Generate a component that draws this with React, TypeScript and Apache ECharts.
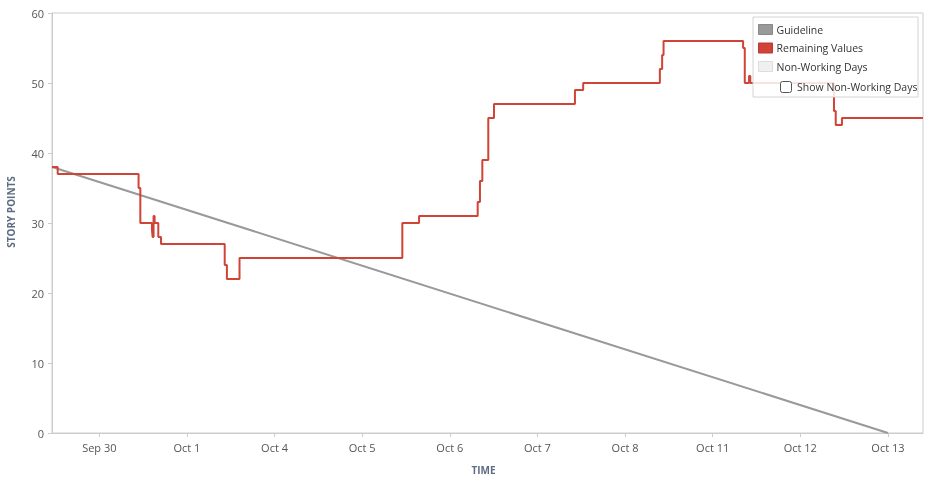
import { useEffect, useRef } from "react";
import * as echarts from "echarts";

const RED = "#d04437";
const GUIDE = "#999999";
const SLATE = "#5e6c84";
const TEXT = "#555555";
const EDGE = "#cccccc";

// x in working days from the "Sep 30" tick (non-working days collapsed)
const TICK_LABELS = ["Sep 30", "Oct 1", "Oct 4", "Oct 5", "Oct 6", "Oct 7", "Oct 8", "Oct 11", "Oct 12", "Oct 13"];
const TICK_POS = [0, 1, 2, 3, 4, 5, 6, 7, 8, 9];
const X_MIN = -0.54;
const X_MAX = 9.4;

const GUIDE_X = [-0.54, 9];
const GUIDE_Y = [38, 0];

const REMAIN_X = [
  -0.54, -0.475, 0.448, 0.468, 0.601, 0.608, 0.619, 0.631, 0.673, 0.704,
  1.431, 1.456, 1.6, 3.458, 3.649, 4.318, 4.344, 4.371, 4.439, 4.504,
  5.428, 5.522, 6.397, 6.423, 6.439, 7.347, 7.366, 7.415, 7.429, 8.384,
  8.404, 8.475, 9.4,
];
const REMAIN_Y = [
  38, 37, 35, 30, 29, 28, 31, 30, 28, 27,
  24, 22, 25, 30, 31, 33, 36, 39, 45, 47,
  49, 50, 52, 54, 56, 55, 50, 51, 50, 46,
  44, 45, 45,
];

const FONT = "'Open Sans', 'Noto Sans', sans-serif";

export default function App() {
  const ref = useRef<HTMLDivElement>(null);

  useEffect(() => {
    if (!ref.current) return;
    const chart = echarts.init(ref.current, undefined, { renderer: "svg" });

    chart.setOption({
      animation: false,
      textStyle: { fontFamily: FONT },
      grid: {
        left: 52,
        right: 13,
        top: 13,
        bottom: 59,
        outerBoundsMode: "none",
        containLabel: false,
        show: true,
        borderColor: EDGE,
        borderWidth: 1,
        backgroundColor: "transparent",
      },
      xAxis: {
        type: "value",
        min: X_MIN,
        max: X_MAX,
        name: "TIME",
        nameLocation: "middle",
        nameGap: 32,
        nameTextStyle: { color: SLATE, fontSize: 10, fontWeight: "bold", padding: [0, 8, 0, 0] },
        axisLine: { show: true, onZero: false, lineStyle: { color: EDGE } },
        axisTick: { show: true, length: 4, lineStyle: { color: EDGE }, customValues: TICK_POS },
        axisLabel: {
          color: TEXT,
          fontSize: 11,
          margin: 9,
          customValues: TICK_POS,
          formatter: (v: number) => TICK_LABELS[Math.round(v)] ?? "",
        },
        splitLine: { show: false },
      },
      yAxis: {
        type: "value",
        min: 0,
        max: 60,
        interval: 10,
        name: "STORY POINTS",
        nameLocation: "middle",
        nameGap: 36,
        nameTextStyle: { color: SLATE, fontSize: 10, fontWeight: "bold", padding: [0, 0, 0, 22] },
        axisLine: { show: true, onZero: false, lineStyle: { color: EDGE } },
        axisTick: { show: true, length: 4, lineStyle: { color: EDGE } },
        axisLabel: { color: TEXT, fontSize: 11, margin: 8 },
        splitLine: { show: false },
      },
      legend: {
        orient: "vertical",
        left: 758,
        top: 24,
        padding: 0,
        z: 20,
        icon: "rect",
        itemWidth: 14,
        itemHeight: 10,
        itemGap: 7.5,
        selectedMode: false,
        textStyle: { color: "#333333", fontSize: 10.5, fontFamily: FONT, padding: [0, 0, 0, -1] },
        data: [
          { name: "Guideline", itemStyle: { color: GUIDE, borderColor: "#888888", borderWidth: 1 } },
          { name: "Remaining Values", itemStyle: { color: RED, borderColor: "#b83a2e", borderWidth: 1 } },
          { name: "Non-Working Days", itemStyle: { color: "#f0f0f0", borderColor: "#dddddd", borderWidth: 1 } },
        ],
      },
      graphic: [
        {
          type: "rect",
          z: 10,
          shape: { x: 753, y: 17, width: 165, height: 80 },
          style: { fill: "rgba(255,255,255,0.85)", stroke: "#d4d4d4", lineWidth: 1 },
        },
        {
          type: "rect",
          z: 21,
          shape: { x: 780.5, y: 81.5, width: 11, height: 11, r: 2 },
          style: { fill: "#ffffff", stroke: "#555555", lineWidth: 1 },
        },
        {
          type: "text",
          z: 21,
          x: 797,
          y: 87,
          style: {
            text: "Show Non-Working Days",
            fill: "#333333",
            fontSize: 10.5,
            fontFamily: FONT,
            verticalAlign: "middle",
          },
        },
      ],
      series: [
        {
          name: "Guideline",
          type: "line",
          data: GUIDE_X.map((x, i) => [x, GUIDE_Y[i]]),
          symbol: "none",
          color: GUIDE,
          lineStyle: { color: GUIDE, width: 2 },
          z: 2,
        },
        {
          name: "Remaining Values",
          type: "line",
          step: "end",
          data: REMAIN_X.map((x, i) => [x, REMAIN_Y[i]]),
          symbol: "none",
          color: RED,
          lineStyle: { color: RED, width: 2 },
          z: 3,
        },
        {
          name: "Non-Working Days",
          type: "line",
          data: [],
          color: "#f0f0f0",
        },
      ],
    });

    return () => chart.dispose();
  }, []);

  return <div ref={ref} style={{ position: "fixed", left: 0, top: 0, width: 936, height: 492 }} />;
}
